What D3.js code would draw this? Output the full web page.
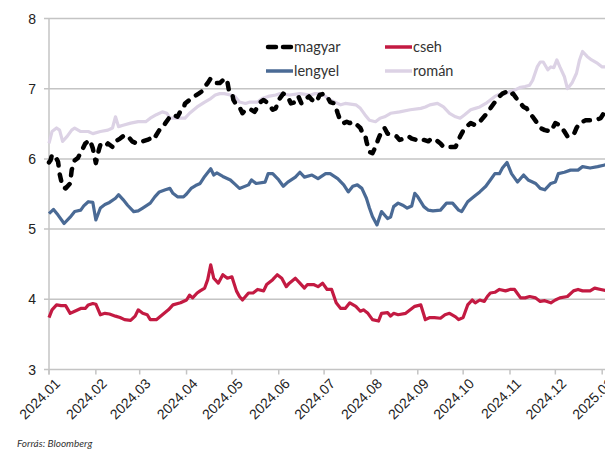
<!DOCTYPE html>
<html>
<head>
<meta charset="utf-8">
<script src="https://cdn.jsdelivr.net/npm/d3@7"></script>
<style>
  html, body { margin: 0; padding: 0; background: #fff; overflow: hidden; }
  svg { display: block; }
</style>
</head>
<body>
<svg id="chart" width="605" height="449"></svg>
<script>
// ---- DATA (days since 2024-01-01, yield %) ----
const seriesNames = ["magyar", "cseh", "lengyel", "román"];
const yTicks = [3, 4, 5, 6, 7, 8];
const sourceText = "Forrás: Bloomberg";

const magyarDays = [0,1,2,4,6,7,9,11,14,15,17,19,22,24,27,29,31,33,34,37,39,42,44,47,50,52,55,58,62,65,67,69,71,73,75,77,80,82,85,87,89,90,93,96,99,101,103,105,107,109,111,113,115,116,118,119,121,122,124,126,128,130,133,136,138,140,142,145,148,150,152,155,158,160,163,165,167,169,172,174,177,179,182,184,186,189,191,193,195,197,199,201,204,206,207,209,210,212,214,216,218,220,222,224,227,230,232,235,238,240,243,246,248,251,253,256,259,261,264,269,272,275,279,282,285,289,292,295,298,300,303,305,307,310,312,314,316,318,320,323,325,328,332,335,338,341,343,347,349,351,355,361,365,367,369];
const magyarVals = [5.95,5.98,6.06,6.04,5.96,5.79,5.60,5.58,5.65,5.84,5.98,6.01,6.13,6.22,6.27,6.15,5.94,6.13,6.20,6.17,6.22,6.17,6.25,6.29,6.34,6.33,6.25,6.22,6.25,6.27,6.29,6.27,6.34,6.41,6.44,6.51,6.60,6.63,6.60,6.68,6.72,6.79,6.84,6.89,6.93,6.96,7.03,7.08,7.15,7.12,7.08,7.08,7.12,7.15,7.10,6.98,6.96,6.84,6.77,6.74,6.65,6.70,6.71,6.67,6.74,6.81,6.84,6.79,6.70,6.72,6.84,6.93,6.89,6.79,6.81,6.89,6.79,6.84,6.89,6.84,6.81,6.91,6.93,6.89,6.81,6.79,6.65,6.53,6.51,6.53,6.51,6.53,6.48,6.44,6.39,6.36,6.25,6.10,6.08,6.17,6.29,6.39,6.44,6.36,6.34,6.32,6.27,6.29,6.32,6.29,6.27,6.25,6.27,6.25,6.29,6.27,6.22,6.17,6.17,6.17,6.32,6.44,6.51,6.48,6.53,6.63,6.72,6.81,6.89,6.93,6.96,6.91,6.93,6.84,6.79,6.74,6.72,6.65,6.60,6.51,6.44,6.41,6.39,6.51,6.48,6.39,6.32,6.34,6.44,6.51,6.55,6.55,6.58,6.65,6.62];

const csehDays = [0,2,5,8,11,14,17,21,24,26,29,31,34,37,40,44,47,50,54,57,59,62,65,67,71,75,79,82,87,91,93,95,98,100,103,105,107,109,112,115,118,121,124,126,128,132,135,138,142,144,148,151,154,157,159,163,166,169,171,175,178,181,184,187,190,193,196,199,203,206,208,211,214,218,220,224,226,228,231,236,239,242,246,248,249,252,255,259,262,265,269,271,274,277,280,282,285,288,290,292,295,298,302,305,308,312,315,318,322,325,328,332,335,338,343,347,350,353,358,361,365,369];
const csehVals = [3.74,3.85,3.92,3.91,3.91,3.80,3.83,3.87,3.87,3.92,3.94,3.93,3.78,3.80,3.79,3.76,3.74,3.71,3.70,3.76,3.85,3.80,3.78,3.71,3.71,3.78,3.85,3.92,3.95,3.99,4.06,4.02,4.09,4.12,4.16,4.28,4.49,4.30,4.23,4.35,4.30,4.32,4.12,4.04,3.99,4.09,4.09,4.14,4.12,4.21,4.28,4.35,4.30,4.18,4.23,4.30,4.23,4.16,4.21,4.21,4.18,4.23,4.14,4.14,3.95,3.87,3.87,3.95,3.90,3.83,3.85,3.80,3.71,3.69,3.80,3.81,3.76,3.80,3.78,3.80,3.85,3.90,3.92,3.78,3.71,3.74,3.74,3.73,3.78,3.80,3.75,3.71,3.74,3.92,3.99,3.95,3.99,3.97,4.04,4.09,4.10,4.14,4.12,4.14,4.14,4.02,4.02,4.04,4.02,3.97,3.98,3.95,3.99,4.02,4.04,4.12,4.14,4.12,4.12,4.16,4.14,4.12];

const lengyelDays = [0,3,6,10,14,17,21,23,26,29,31,34,37,40,44,46,49,52,56,59,62,67,70,73,77,80,82,85,89,91,94,97,100,103,107,109,111,115,120,123,126,132,134,137,143,145,148,152,155,158,163,166,169,174,178,183,186,191,195,198,201,204,207,210,212,214,217,220,224,226,228,231,234,237,240,242,244,248,251,254,259,263,267,271,273,277,281,285,289,292,295,298,300,303,306,310,314,317,322,325,328,332,335,337,341,345,350,353,358,363,367,369];
const lengyelVals = [5.22,5.28,5.20,5.08,5.17,5.25,5.27,5.33,5.39,5.38,5.13,5.30,5.35,5.38,5.44,5.49,5.42,5.34,5.25,5.26,5.30,5.37,5.46,5.53,5.56,5.58,5.51,5.46,5.46,5.50,5.58,5.62,5.65,5.75,5.86,5.77,5.80,5.75,5.70,5.64,5.58,5.63,5.70,5.65,5.67,5.79,5.79,5.70,5.61,5.67,5.74,5.81,5.74,5.77,5.72,5.79,5.79,5.72,5.63,5.53,5.61,5.63,5.58,5.44,5.30,5.18,5.06,5.25,5.15,5.17,5.32,5.37,5.34,5.30,5.33,5.51,5.46,5.32,5.27,5.26,5.27,5.37,5.37,5.27,5.25,5.39,5.46,5.53,5.61,5.70,5.79,5.79,5.87,5.95,5.79,5.67,5.77,5.70,5.65,5.58,5.56,5.65,5.67,5.79,5.81,5.84,5.84,5.89,5.87,5.89,5.91,5.92];

const romanDays = [0,2,5,7,9,12,15,17,21,26,29,34,39,42,44,46,49,54,59,64,67,71,75,78,80,83,87,90,93,98,103,107,110,113,116,120,123,126,130,133,138,141,145,150,153,159,166,173,176,179,183,186,189,193,196,203,206,209,212,216,219,222,226,232,239,246,249,252,257,261,265,269,272,275,279,282,285,289,292,295,298,302,305,308,312,315,318,320,323,325,327,330,332,334,336,338,341,343,346,349,351,353,356,359,363,366,369];
const romanVals = [6.22,6.39,6.44,6.41,6.25,6.32,6.41,6.44,6.39,6.39,6.36,6.39,6.41,6.44,6.60,6.46,6.48,6.51,6.53,6.53,6.58,6.63,6.67,6.65,6.58,6.58,6.58,6.58,6.65,6.74,6.81,6.86,6.91,6.93,6.93,6.91,6.89,6.81,6.79,6.81,6.81,6.86,6.89,6.91,6.93,6.91,6.93,6.91,6.93,6.93,6.89,6.84,6.81,6.77,6.79,6.77,6.72,6.63,6.55,6.53,6.58,6.60,6.65,6.67,6.70,6.72,6.74,6.77,6.79,6.74,6.65,6.60,6.58,6.63,6.70,6.72,6.74,6.79,6.84,6.89,6.92,6.93,6.96,6.98,7.02,7.03,7.05,7.12,7.31,7.38,7.38,7.27,7.31,7.30,7.41,7.31,7.17,7.00,7.08,7.22,7.41,7.53,7.46,7.41,7.36,7.31,7.31];

// ---- SETUP ----
const start = new Date(2024, 0, 1);
const toPts = (days, vals) => days.map((d, i) => ({ date: d3.timeDay.offset(start, d), v: vals[i] }));
const series = [
  { name: "román",   pts: toPts(romanDays, romanVals),     color: "#dcd2e5", width: 3.2, dash: null },
  { name: "cseh",    pts: toPts(csehDays, csehVals),       color: "#c31a42", width: 3.2, dash: null },
  { name: "lengyel", pts: toPts(lengyelDays, lengyelVals), color: "#4a6a95", width: 3.2, dash: null },
  { name: "magyar",  pts: toPts(magyarDays, magyarVals),   color: "#000000", width: 4.5, dash: "6.5 9" }
];
const byName = Object.fromEntries(series.map(s => [s.name, s]));

const svg = d3.select("#chart");
const x = d3.scaleTime().domain([start, new Date(2025, 0, 1)]).range([49, 602.2]);
const y = d3.scaleLinear().domain([3, 8]).range([369.5, 18.5]);
const gridColor = "#c4c4c4";

// horizontal gridlines
svg.append("g").selectAll("line").data(yTicks).join("line")
  .attr("x1", 44).attr("x2", 605)
  .attr("y1", d => y(d)).attr("y2", d => y(d))
  .attr("stroke", gridColor).attr("stroke-width", 1.5);

// y axis line
svg.append("line").attr("x1", 49).attr("x2", 49).attr("y1", y(8)).attr("y2", y(3) + 5)
  .attr("stroke", gridColor).attr("stroke-width", 1.5);

// y labels
svg.append("g").selectAll("text").data(yTicks).join("text")
  .attr("x", 36).attr("y", d => y(d)).attr("dy", "0.36em")
  .attr("text-anchor", "end")
  .attr("font-family", "Liberation Sans, Arial, sans-serif").attr("font-size", 14)
  .attr("fill", "#222").text(d => d);

// x ticks
const months = d3.timeMonth.range(start, new Date(2025, 0, 2));
const fmt = d3.timeFormat("%Y.%m");
svg.append("g").selectAll("line").data(months).join("line")
  .attr("x1", d => x(d)).attr("x2", d => x(d))
  .attr("y1", y(3)).attr("y2", y(3) + 5)
  .attr("stroke", gridColor).attr("stroke-width", 1.5);
svg.append("g").selectAll("text").data(months).join("text")
  .attr("transform", d => `translate(${x(d) + 5},${y(3) + 8}) rotate(-45)`)
  .attr("text-anchor", "end").attr("dy", "0.7em")
  .attr("font-family", "Liberation Sans, Arial, sans-serif").attr("font-size", 14)
  .attr("fill", "#222").text(d => fmt(d));

// lines
const line = d3.line().x(d => x(d.date)).y(d => y(d.v)).curve(d3.curveLinear);
svg.append("g").selectAll("path").data(series).join("path")
  .attr("d", s => line(s.pts))
  .attr("fill", "none")
  .attr("stroke", s => s.color)
  .attr("stroke-width", s => s.width)
  .attr("stroke-linejoin", "round")
  .attr("stroke-linecap", s => s.dash ? "round" : "butt")
  .attr("stroke-dasharray", s => s.dash);

// legend
const legendPos = [
  { name: "magyar", lx: 266, ly: 47 },
  { name: "cseh", lx: 385, ly: 47 },
  { name: "lengyel", lx: 266, ly: 71 },
  { name: "román", lx: 385, ly: 71 }
];
const lg = svg.append("g").selectAll("g").data(legendPos).join("g");
lg.append("line")
  .attr("x1", d => d.lx + (byName[d.name].dash ? 2 : 0)).attr("x2", d => d.lx + 27)
  .attr("y1", d => d.ly).attr("y2", d => d.ly)
  .attr("stroke", d => byName[d.name].color)
  .attr("stroke-width", d => byName[d.name].dash ? 4.5 : 3.5)
  .attr("stroke-linecap", d => byName[d.name].dash ? "round" : "butt")
  .attr("stroke-dasharray", d => byName[d.name].dash ? "8 7" : null);
lg.append("text")
  .attr("x", d => d.lx + 28).attr("y", d => d.ly).attr("dy", "0.35em")
  .attr("font-family", "Lato, sans-serif").attr("font-size", 14.5)
  .attr("fill", "#333").text(d => d.name);

// source
svg.append("text").attr("x", 17).attr("y", 447)
  .attr("font-family", "Lato, sans-serif").attr("font-style", "italic").attr("font-size", 10)
  .attr("fill", "#333").text(sourceText);
</script>
</body>
</html>
